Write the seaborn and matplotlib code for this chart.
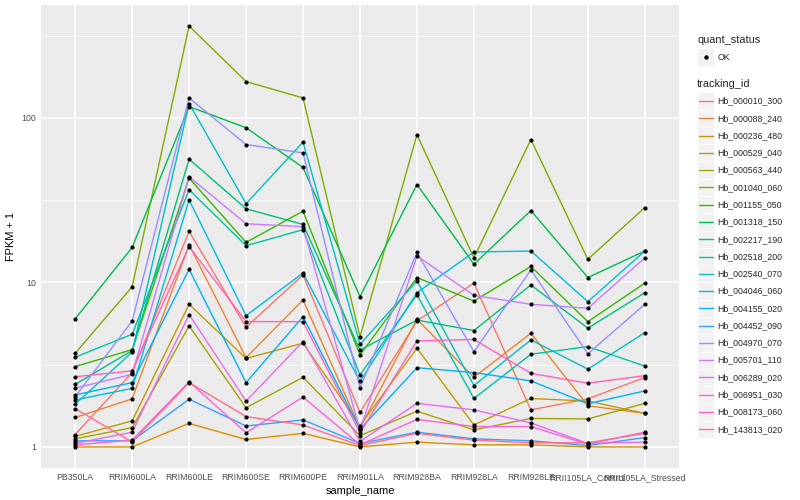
import matplotlib
matplotlib.use("Agg")
import matplotlib.pyplot as plt
from matplotlib.lines import Line2D
from matplotlib.patches import Rectangle
from matplotlib.ticker import FixedLocator, NullFormatter
import numpy as np
import pandas as pd
import seaborn as sns

# expression values (FPKM + 1) per gene
samples = ["PB350LA", "RRIM600LA", "RRIM600LE", "RRIM600SE", "RRIM600PE", "RRIM901LA",
           "RRIM928BA", "RRIM928LA", "RRIM928LE", "RRII105LA_Control", "RRII105LA_Stressed"]

hb_000010_300 = [1.19, 2.83, 20.4, 5.34, 11.1, 1.62, 5.83, 9.9, 1.68, 1.96, 2.64]
hb_000088_240 = [1.51, 1.96, 16.9, 3.49, 7.82, 1.30, 5.97, 2.65, 4.91, 1.78, 1.60]
hb_000236_480 = [1.00, 1.00, 1.39, 1.11, 1.21, 1.00, 1.07, 1.03, 1.03, 1.00, 1.00]
hb_000529_040 = [1.16, 1.44, 7.36, 3.45, 4.27, 1.35, 3.98, 1.36, 1.97, 1.90, 1.60]
hb_000563_440 = [1.12, 1.31, 5.44, 1.73, 2.65, 1.17, 1.65, 1.27, 1.49, 1.48, 1.84]
hb_001040_060 = [3.71, 9.4, 361, 166, 132, 4.68, 78.9, 14.1, 73.8, 13.8, 28.5]
hb_001155_050 = [3.08, 3.90, 43.0, 17.5, 27.1, 3.62, 10.7, 7.7, 12.5, 5.77, 9.9]
hb_001318_150 = [6.0, 16.3, 117, 87, 49.9, 8.2, 39.3, 12.9, 27.3, 10.7, 15.5]
hb_002217_190 = [2.40, 3.85, 56.1, 28.0, 22.5, 3.88, 5.90, 5.10, 9.65, 5.27, 8.65]
hb_002518_200 = [3.51, 4.84, 36.6, 16.7, 20.9, 2.74, 8.40, 1.97, 3.66, 4.07, 3.10]
hb_002540_070 = [1.82, 3.77, 122, 30.1, 71.2, 4.20, 10.2, 2.36, 4.47, 2.97, 4.95]
hb_004046_060 = [1.93, 2.27, 31.7, 6.28, 11.4, 2.50, 8.65, 15.3, 15.5, 7.64, 15.5]
hb_004155_020 = [2.07, 2.46, 12.0, 2.46, 6.19, 1.28, 3.03, 2.83, 2.52, 1.83, 2.19]
hb_004452_090 = [1.09, 1.09, 1.95, 1.34, 1.46, 1.05, 1.23, 1.12, 1.09, 1.02, 1.14]
hb_004970_070 = [2.02, 5.83, 132, 68.8, 61.2, 2.29, 15.2, 3.79, 11.9, 3.68, 7.36]
hb_005701_110 = [2.28, 2.76, 43.8, 22.7, 21.8, 1.26, 14.5, 8.33, 7.36, 6.96, 14.1]
hb_006289_020 = [1.05, 1.23, 6.37, 1.90, 4.37, 1.08, 1.84, 1.68, 1.40, 1.05, 1.07]
hb_006951_030 = [1.03, 1.10, 2.49, 1.22, 2.01, 1.03, 1.47, 1.33, 1.33, 1.04, 1.23]
hb_008173_060 = [2.67, 2.90, 16.5, 5.78, 5.77, 1.22, 4.41, 4.50, 2.80, 2.44, 2.71]
hb_143813_020 = [1.71, 1.07, 2.46, 1.53, 1.36, 1.02, 1.21, 1.10, 1.06, 1.06, 1.21]

tracking_ids = ["Hb_000010_300", "Hb_000088_240", "Hb_000236_480", "Hb_000529_040",
                "Hb_000563_440", "Hb_001040_060", "Hb_001155_050", "Hb_001318_150",
                "Hb_002217_190", "Hb_002518_200", "Hb_002540_070", "Hb_004046_060",
                "Hb_004155_020", "Hb_004452_090", "Hb_004970_070", "Hb_005701_110",
                "Hb_006289_020", "Hb_006951_030", "Hb_008173_060", "Hb_143813_020"]
series = [hb_000010_300, hb_000088_240, hb_000236_480, hb_000529_040, hb_000563_440,
          hb_001040_060, hb_001155_050, hb_001318_150, hb_002217_190, hb_002518_200,
          hb_002540_070, hb_004046_060, hb_004155_020, hb_004452_090, hb_004970_070,
          hb_005701_110, hb_006289_020, hb_006951_030, hb_008173_060, hb_143813_020]

# ggplot2 default hue palette for 20 levels
colors = ["#F8766D", "#EA8331", "#D89000", "#C09B00", "#A3A500", "#7CAE00", "#39B600",
          "#00BB4E", "#00BF7D", "#00C1A3", "#00BFC4", "#00BAE0", "#00B0F6", "#35A2FF",
          "#9590FF", "#C77CFF", "#E76BF3", "#FA62DB", "#FF62BC", "#FF6C91"]

rows = []
for tid, vals in zip(tracking_ids, series):
    for i, (s, v) in enumerate(zip(samples, vals)):
        rows.append({"tracking_id": tid, "sample_name": s, "pos": i, "fpkm": v})
df = pd.DataFrame(rows)

sns.set_style("darkgrid", {"axes.facecolor": "#EBEBEB", "grid.color": "white"})
plt.rcParams["font.family"] = ["Liberation Sans", "DejaVu Sans"]

W, H = 800, 500
fig = plt.figure(figsize=(W / 100, H / 100), dpi=100)
ax = fig.add_axes([41 / W, 1 - 468 / H, (679 - 41) / W, (468 - 5) / H])

sns.lineplot(data=df, x="pos", y="fpkm", hue="tracking_id", palette=colors,
             linewidth=1.0, legend=False, ax=ax, sort=False, estimator=None,
             units="tracking_id")
sns.scatterplot(data=df, x="pos", y="fpkm", color="black", s=9, marker="o",
                linewidth=0, legend=False, ax=ax, zorder=5)

# axes, log scale with ggplot-like expansion
ax.set_yscale("log")
lo, hi = np.log10(df.fpkm.min()), np.log10(df.fpkm.max())
pad = 0.05 * (hi - lo)
ax.set_ylim(10 ** (lo - pad), 10 ** (hi + pad))
ax.set_xlim(-0.6, len(samples) - 0.4)

ax.yaxis.set_major_locator(FixedLocator([1, 10, 100]))
ax.set_yticklabels(["1", "10", "100"])
ax.yaxis.set_minor_locator(FixedLocator([10 ** 0.5, 10 ** 1.5, 10 ** 2.5]))
ax.yaxis.set_minor_formatter(NullFormatter())
ax.set_xticks(range(len(samples)))
ax.set_xticklabels(samples)

ax.grid(which="major", color="white", linewidth=1.1)
ax.grid(which="minor", axis="y", color="white", linewidth=0.5)
ax.set_axisbelow(True)
for sp in ax.spines.values():
    sp.set_visible(False)
ax.tick_params(axis="both", which="major", length=2.2, width=0.6, color="#333333",
               labelsize=6.3, labelcolor="#4D4D4D", pad=1.5)
ax.tick_params(axis="y", which="minor", length=0)

ax.set_xlabel("sample_name", fontsize=7.9, color="black", labelpad=3)
ax.set_ylabel("FPKM + 1", fontsize=7.9, color="black", labelpad=4)

# manual ggplot-style legends
def fx(px):
    return px / W

def fy(py):
    return 1 - py / H

key = 17.28
kx = 697
fig.text(fx(kx), fy(40), "quant_status", fontsize=7.9, va="center", ha="left")
fig.add_artist(Rectangle((fx(kx), fy(57 + key / 2)), key / W, key / H,
                         facecolor="#F2F2F2", edgecolor="white", linewidth=0.5))
fig.add_artist(Line2D([fx(kx + key / 2)], [fy(57)], marker="o", color="black",
                      markersize=2.2, linestyle="none"))
fig.text(fx(kx + key + 3), fy(57), "OK", fontsize=6.3, va="center", ha="left")

fig.text(fx(kx), fy(84), "tracking_id", fontsize=7.9, va="center", ha="left")
for i, (tid, c) in enumerate(zip(tracking_ids, colors)):
    cy = 101 + i * key
    fig.add_artist(Rectangle((fx(kx), fy(cy + key / 2)), key / W, key / H,
                             facecolor="#F2F2F2", edgecolor="white", linewidth=0.5))
    fig.add_artist(Line2D([fx(kx + 1.5), fx(kx + key - 1.5)], [fy(cy), fy(cy)],
                          color=c, linewidth=1.0))
    fig.text(fx(kx + key + 3), fy(cy), tid, fontsize=6.3, va="center", ha="left")

fig.savefig("out.png", dpi=100, facecolor="white")
